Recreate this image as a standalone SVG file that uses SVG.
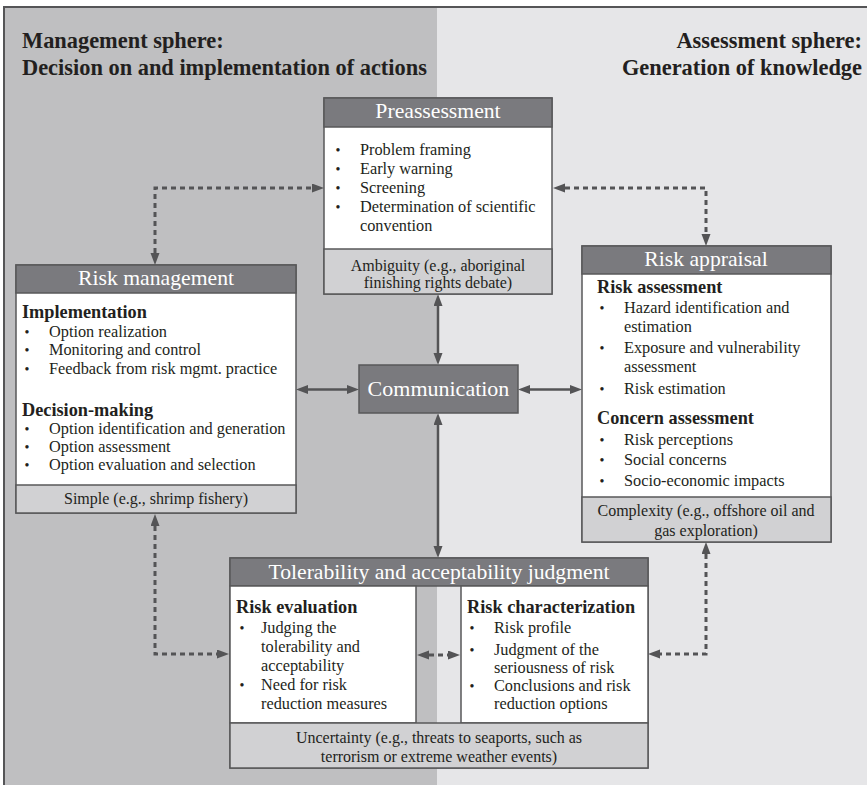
<svg xmlns="http://www.w3.org/2000/svg" width="867" height="785" viewBox="0 0 867 785">
  <defs>
    <style>
      .t { font-family: "Liberation Serif", "Times New Roman", serif; fill: #231f20; }
      .box { stroke: #58585a; stroke-width: 1.5; }
      .hdr { fill: #7a7a7e; }
      .body { fill: #ffffff; }
      .foot { fill: #d1d1d3; }
      .title { font-size: 21.7px; fill: #ffffff; text-anchor: middle; }
      .sphere { font-size: 22.4px; font-weight: bold; }
      .sub { font-size: 18.3px; font-weight: bold; }
      .li { font-size: 16.3px; }
      .dot { font-size: 14px; text-anchor: middle; }
      .ft { font-size: 16px; text-anchor: middle; }
      .conn { fill: none; stroke: #545456; stroke-width: 2.5; }
      .dash { stroke-width: 3; stroke-dasharray: 5 4; }
    </style>
    <marker id="arrow" markerUnits="userSpaceOnUse" markerWidth="12" markerHeight="10" refX="0" refY="4.5" orient="auto-start-reverse">
      <path d="M0,0 L12,4.5 L0,9 z" fill="#545456"/>
    </marker>
  </defs>

  <!-- page and the two spheres -->
  <rect x="0" y="0" width="867" height="785" fill="#ffffff"/>
  <rect x="4" y="7" width="433" height="778" fill="#bfbfc1"/>
  <rect x="437" y="7" width="430" height="778" fill="#e6e6e8"/>
  <line x1="3" y1="7" x2="867" y2="7" stroke="#555557" stroke-width="2"/>
  <line x1="4" y1="6" x2="4" y2="785" stroke="#555557" stroke-width="2"/>

  <g id="management-sphere">
    <text class="t sphere" x="22" y="48">Management sphere:</text>
    <text class="t sphere" x="22" y="75">Decision on and implementation of actions</text>
  </g>
  <g id="assessment-sphere">
    <text class="t sphere" x="862" y="48" text-anchor="end">Assessment sphere:</text>
    <text class="t sphere" x="862" y="75" text-anchor="end">Generation of knowledge</text>
  </g>

  <!-- Preassessment -->
  <g id="preassessment">
    <rect class="box body" x="324" y="98" width="228" height="196"/>
    <rect class="box hdr" x="324" y="98" width="228" height="29"/>
    <rect class="box foot" x="324" y="249" width="228" height="45"/>
    <text class="t title" x="438" y="118">Preassessment</text>
    <text class="t dot" x="338" y="155">•</text>
    <text class="t li" x="360" y="155">Problem framing</text>
    <text class="t dot" x="338" y="174">•</text>
    <text class="t li" x="360" y="174">Early warning</text>
    <text class="t dot" x="338" y="193">•</text>
    <text class="t li" x="360" y="193">Screening</text>
    <text class="t dot" x="338" y="212">•</text>
    <text class="t li" x="360" y="212">Determination of scientific</text>
    <text class="t li" x="360" y="231">convention</text>
    <text class="t ft" x="438" y="271">Ambiguity (e.g., aboriginal</text>
    <text class="t ft" x="438" y="288">finishing rights debate)</text>
  </g>

  <!-- Risk management -->
  <g id="risk-management">
    <rect class="box body" x="16" y="265" width="280" height="248"/>
    <rect class="box hdr" x="16" y="265" width="280" height="28"/>
    <rect class="box foot" x="16" y="485" width="280" height="28"/>
    <text class="t title" x="156" y="285">Risk management</text>
    <text class="t sub" x="22" y="318">Implementation</text>
    <text class="t dot" x="27" y="337">•</text>
    <text class="t li" x="49" y="337">Option realization</text>
    <text class="t dot" x="27" y="355">•</text>
    <text class="t li" x="49" y="355">Monitoring and control</text>
    <text class="t dot" x="27" y="374">•</text>
    <text class="t li" x="49" y="374">Feedback from risk mgmt. practice</text>
    <text class="t sub" x="22" y="416">Decision-making</text>
    <text class="t dot" x="27" y="434">•</text>
    <text class="t li" x="49" y="434">Option identification and generation</text>
    <text class="t dot" x="27" y="452">•</text>
    <text class="t li" x="49" y="452">Option assessment</text>
    <text class="t dot" x="27" y="470">•</text>
    <text class="t li" x="49" y="470">Option evaluation and selection</text>
    <text class="t ft" x="156" y="504">Simple (e.g., shrimp fishery)</text>
  </g>

  <!-- Communication -->
  <g id="communication">
    <rect class="box hdr" x="359" y="365" width="159" height="48"/>
    <text class="t" x="438.5" y="396" font-size="22px" text-anchor="middle" style="fill:#ffffff">Communication</text>
  </g>

  <!-- Risk appraisal -->
  <g id="risk-appraisal">
    <rect class="box body" x="582" y="246" width="249" height="296"/>
    <rect class="box hdr" x="582" y="246" width="249" height="28"/>
    <rect class="box foot" x="582" y="497" width="249" height="45"/>
    <text class="t title" x="706" y="266">Risk appraisal</text>
    <text class="t sub" x="597" y="293">Risk assessment</text>
    <text class="t dot" x="602" y="313">•</text>
    <text class="t li" x="624" y="313">Hazard identification and</text>
    <text class="t li" x="624" y="332">estimation</text>
    <text class="t dot" x="602" y="353">•</text>
    <text class="t li" x="624" y="353">Exposure and vulnerability</text>
    <text class="t li" x="624" y="372">assessment</text>
    <text class="t dot" x="602" y="394">•</text>
    <text class="t li" x="624" y="394">Risk estimation</text>
    <text class="t sub" x="597" y="424">Concern assessment</text>
    <text class="t dot" x="602" y="445">•</text>
    <text class="t li" x="624" y="445">Risk perceptions</text>
    <text class="t dot" x="602" y="465">•</text>
    <text class="t li" x="624" y="465">Social concerns</text>
    <text class="t dot" x="602" y="486">•</text>
    <text class="t li" x="624" y="486">Socio-economic impacts</text>
    <text class="t ft" x="706" y="516">Complexity (e.g., offshore oil and</text>
    <text class="t ft" x="706" y="536">gas exploration)</text>
  </g>

  <!-- Tolerability and acceptability judgment -->
  <g id="tolerability-judgment">
    <rect class="box" x="230" y="558" width="418" height="210" fill="none"/>
    <rect class="box hdr" x="230" y="558" width="418" height="28"/>
    <rect class="box body" x="230" y="586" width="186" height="137"/>
    <rect class="box body" x="461" y="586" width="187" height="137"/>
    <rect class="box foot" x="230" y="723" width="418" height="45"/>
    <text class="t title" x="439" y="579">Tolerability and acceptability judgment</text>

    <text class="t sub" x="236" y="613">Risk evaluation</text>
    <text class="t dot" x="242" y="633">•</text>
    <text class="t li" x="261" y="633">Judging the</text>
    <text class="t li" x="261" y="652">tolerability and</text>
    <text class="t li" x="261" y="671">acceptability</text>
    <text class="t dot" x="242" y="690">•</text>
    <text class="t li" x="261" y="690">Need for risk</text>
    <text class="t li" x="261" y="709">reduction measures</text>

    <text class="t sub" x="467" y="613">Risk characterization</text>
    <text class="t dot" x="472" y="633">•</text>
    <text class="t li" x="494" y="633">Risk profile</text>
    <text class="t dot" x="472" y="655">•</text>
    <text class="t li" x="494" y="655">Judgment of the</text>
    <text class="t li" x="494" y="673">seriousness of risk</text>
    <text class="t dot" x="472" y="691">•</text>
    <text class="t li" x="494" y="691">Conclusions and risk</text>
    <text class="t li" x="494" y="709">reduction options</text>

    <text class="t ft" x="439" y="743">Uncertainty (e.g., threats to seaports, such as</text>
    <text class="t ft" x="439" y="762">terrorism or extreme weather events)</text>
  </g>

  <!-- connectors -->
  <g id="connectors">
    <!-- solid links to Communication -->
    <path class="conn" d="M438,306 L438,353" marker-start="url(#arrow)" marker-end="url(#arrow)"/>
    <path class="conn" d="M438,425 L438,546" marker-start="url(#arrow)" marker-end="url(#arrow)"/>
    <path class="conn" d="M308,389.5 L347,389.5" marker-start="url(#arrow)" marker-end="url(#arrow)"/>
    <path class="conn" d="M530,389.5 L570,389.5" marker-start="url(#arrow)" marker-end="url(#arrow)"/>
    <!-- dashed cycle links -->
    <path class="conn dash" d="M155,253 L155,188 L312,188" marker-start="url(#arrow)" marker-end="url(#arrow)"/>
    <path class="conn dash" d="M565,188 L706,188 L706,234" marker-start="url(#arrow)" marker-end="url(#arrow)"/>
    <path class="conn dash" d="M155,526 L155,654 L217,654" marker-start="url(#arrow)" marker-end="url(#arrow)"/>
    <path class="conn dash" d="M706,554 L706,654 L660,654" marker-start="url(#arrow)" marker-end="url(#arrow)"/>
    <path class="conn dash" d="M429,655 L448,655" marker-start="url(#arrow)" marker-end="url(#arrow)"/>
  </g>
</svg>
